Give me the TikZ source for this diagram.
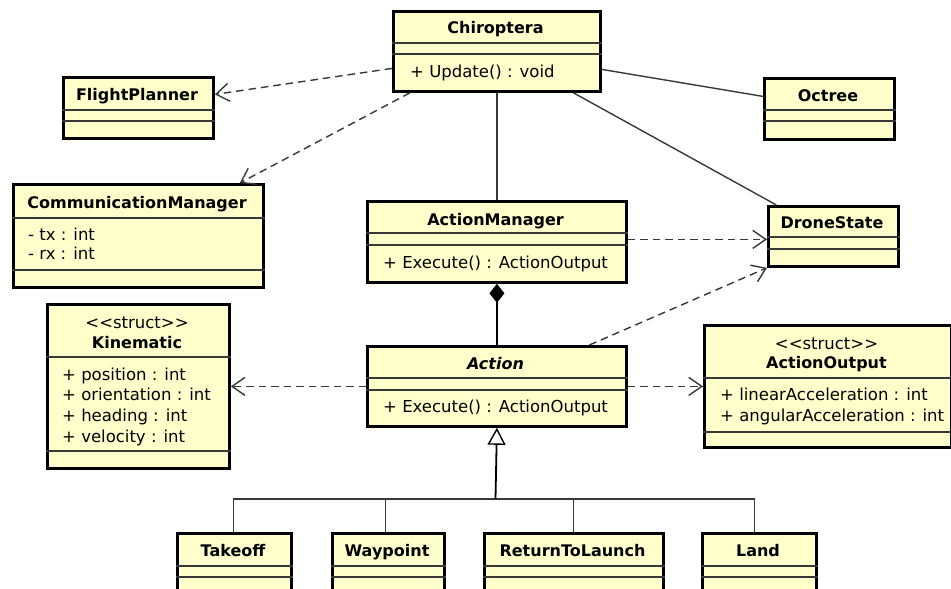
\documentclass[tikz,border=0pt]{standalone}
\usepackage{fontspec}
\setmainfont{DejaVu Sans}
\usetikzlibrary{arrows.meta,calc}
\definecolor{classfill}{RGB}{255,255,204}
\definecolor{linegray}{RGB}{56,56,56}
% horizontal compartment divider inside a class box
\newcommand\clssep[2]{\draw[sep] ([yshift=-#2pt]#1.north west) -- ([yshift=-#2pt]#1.north east);}
\begin{document}
\begin{tikzpicture}[x=1pt,y=-1pt,
  cls/.style={draw=black, line width=2.8pt, fill=classfill, inner sep=0pt, anchor=north west},
  sep/.style={draw=linegray, line width=1.2pt},
  ttl/.style={font=\fontsize{16}{19}\selectfont\bfseries, inner sep=0pt, anchor=base},
  mem/.style={font=\fontsize{16.5}{19}\selectfont, inner sep=0pt, anchor=base west},
  ster/.style={font=\fontsize{16.5}{19}\selectfont, inner sep=0pt, anchor=base},
  dep/.style={draw=linegray, line width=1.4pt, dash pattern=on 7.5pt off 5pt,
    -{Straight Barb[length=13pt,width=18pt,line width=1.4pt]}},
  assoc/.style={draw=linegray, line width=1.4pt},
  comp/.style={draw=black, line width=1.6pt, {Diamond[length=19pt,width=15pt,fill=black]}-},
  gen/.style={draw=black, line width=1.8pt, {Triangle[length=17pt,width=18pt,fill=white,line width=1.4pt]}-},
]
\useasboundingbox (0,0) rectangle (951,589);

% ---------- class boxes ----------
\node[cls, minimum width=207pt, minimum height=80pt] (chir) at (392,10) {};
\clssep{chir}{33}\clssep{chir}{44}
\node[ttl] (chir-t) at (495.5,33) {Chiroptera};
\node[mem] (chir-m) at (410,77) {+ Update() : void};

\node[cls, minimum width=150pt, minimum height=61pt] (fp) at (62,76) {};
\clssep{fp}{34}\clssep{fp}{45}
\node[ttl] (fp-t) at (137,100) {FlightPlanner};

\node[cls, minimum width=250pt, minimum height=103pt] (comm) at (12,183) {};
\clssep{comm}{35}\clssep{comm}{87}
\node[ttl] (comm-t) at (137,208) {CommunicationManager};
\node[mem] (comm-a1) at (28,240) {- tx : int};
\node[mem] (comm-a2) at (28,259) {- rx : int};

\node[cls, minimum width=130pt, minimum height=61pt] (oct) at (763,77) {};
\clssep{oct}{33}\clssep{oct}{44}
\node[ttl] (oct-t) at (828,101) {Octree};

\node[cls, minimum width=130pt, minimum height=60pt] (ds) at (767,205) {};
\clssep{ds}{32}\clssep{ds}{44}
\node[ttl] (ds-t) at (832,228) {DroneState};

\node[cls, minimum width=259pt, minimum height=81pt] (am) at (366,200) {};
\clssep{am}{33}\clssep{am}{45}
\node[ttl] (am-t) at (495.5,225) {ActionManager};
\node[mem] (am-m) at (383,268) {+ Execute() : ActionOutput};

\node[cls, minimum width=259pt, minimum height=80pt] (act) at (366,345) {};
\clssep{act}{33}\clssep{act}{45}
\node[ttl, font=\fontsize{16}{19}\selectfont\bfseries\itshape] (act-t) at (495.5,369) {Action};
\node[mem] (act-m) at (383,412) {+ Execute() : ActionOutput};

\node[cls, minimum width=182pt, minimum height=164pt] (kin) at (46,303) {};
\clssep{kin}{54}\clssep{kin}{148}
\node[ster] (kin-s) at (137,328) {<\kern0pt<struct>\kern0pt>};
\node[ttl] (kin-t) at (137,348) {Kinematic};
\node[mem] (kin-a1) at (62,380) {+ position : int};
\node[mem] (kin-a2) at (62,400.7) {+ orientation : int};
\node[mem] (kin-a3) at (62,421.3) {+ heading : int};
\node[mem] (kin-a4) at (62,442) {+ velocity : int};

\node[cls, minimum width=247pt, minimum height=122pt] (ao) at (703,324) {};
\clssep{ao}{54}\clssep{ao}{108}
\node[ster] (ao-s) at (826.5,349) {<\kern0pt<struct>\kern0pt>};
\node[ttl] (ao-t) at (826.5,368) {ActionOutput};
\node[mem] (ao-a1) at (720,400) {+ linearAcceleration : int};
\node[mem] (ao-a2) at (720,421) {+ angularAcceleration : int};

% concrete actions along the lower edge
\node[cls, minimum width=114pt, minimum height=80pt] (take) at (176,532) {};
\clssep{take}{34}\clssep{take}{45}
\node[ttl] (take-t) at (233,556) {Takeoff};

\node[cls, minimum width=112pt, minimum height=80pt] (way) at (331,532) {};
\clssep{way}{34}\clssep{way}{45}
\node[ttl] (way-t) at (387,556) {Waypoint};

\node[cls, minimum width=179pt, minimum height=80pt] (rtl) at (483,532) {};
\clssep{rtl}{34}\clssep{rtl}{45}
\node[ttl] (rtl-t) at (572.5,556) {ReturnToLaunch};

\node[cls, minimum width=114pt, minimum height=80pt] (land) at (701,532) {};
\clssep{land}{34}\clssep{land}{45}
\node[ttl] (land-t) at (758,556) {Land};

% ---------- relations ----------
\draw[dep] ([yshift=-17pt]chir.west) -- ([yshift=13.5pt]fp.east);
\draw[dep] ([xshift=18pt]chir.south west) -- ([xshift=-25pt]comm.north east);
\draw[assoc] ([yshift=-18pt]chir.east) -- ([yshift=12.5pt]oct.west);
\draw[assoc] ([xshift=76.5pt]chir.south) -- ([xshift=-57pt]ds.north);
\draw[assoc] (chir.south) -- (am.north);
\draw[dep] ([yshift=2.5pt]am.east) -- ([yshift=-3pt]ds.west);
\draw[dep] ([xshift=92.5pt]act.north) -- (ds.south west);
\draw[comp] (am.south) -- (act.north);
\draw[dep] (act.west) -- (kin.east);
\draw[dep] (act.east) -- (ao.west);

% inheritance tree
\coordinate (genjoin) at (495.5,499);
\draw[assoc] ([xshift=-1pt]take.north) |- (genjoin);
\draw[assoc] ([xshift=-3pt]way.north) |- (genjoin);
\draw[assoc] ([xshift=-0.5pt]rtl.north) |- (genjoin);
\draw[assoc] ([xshift=-5pt]land.north) |- (genjoin);
\draw[gen] (act.south) -- (genjoin);
\end{tikzpicture}
\end{document}
